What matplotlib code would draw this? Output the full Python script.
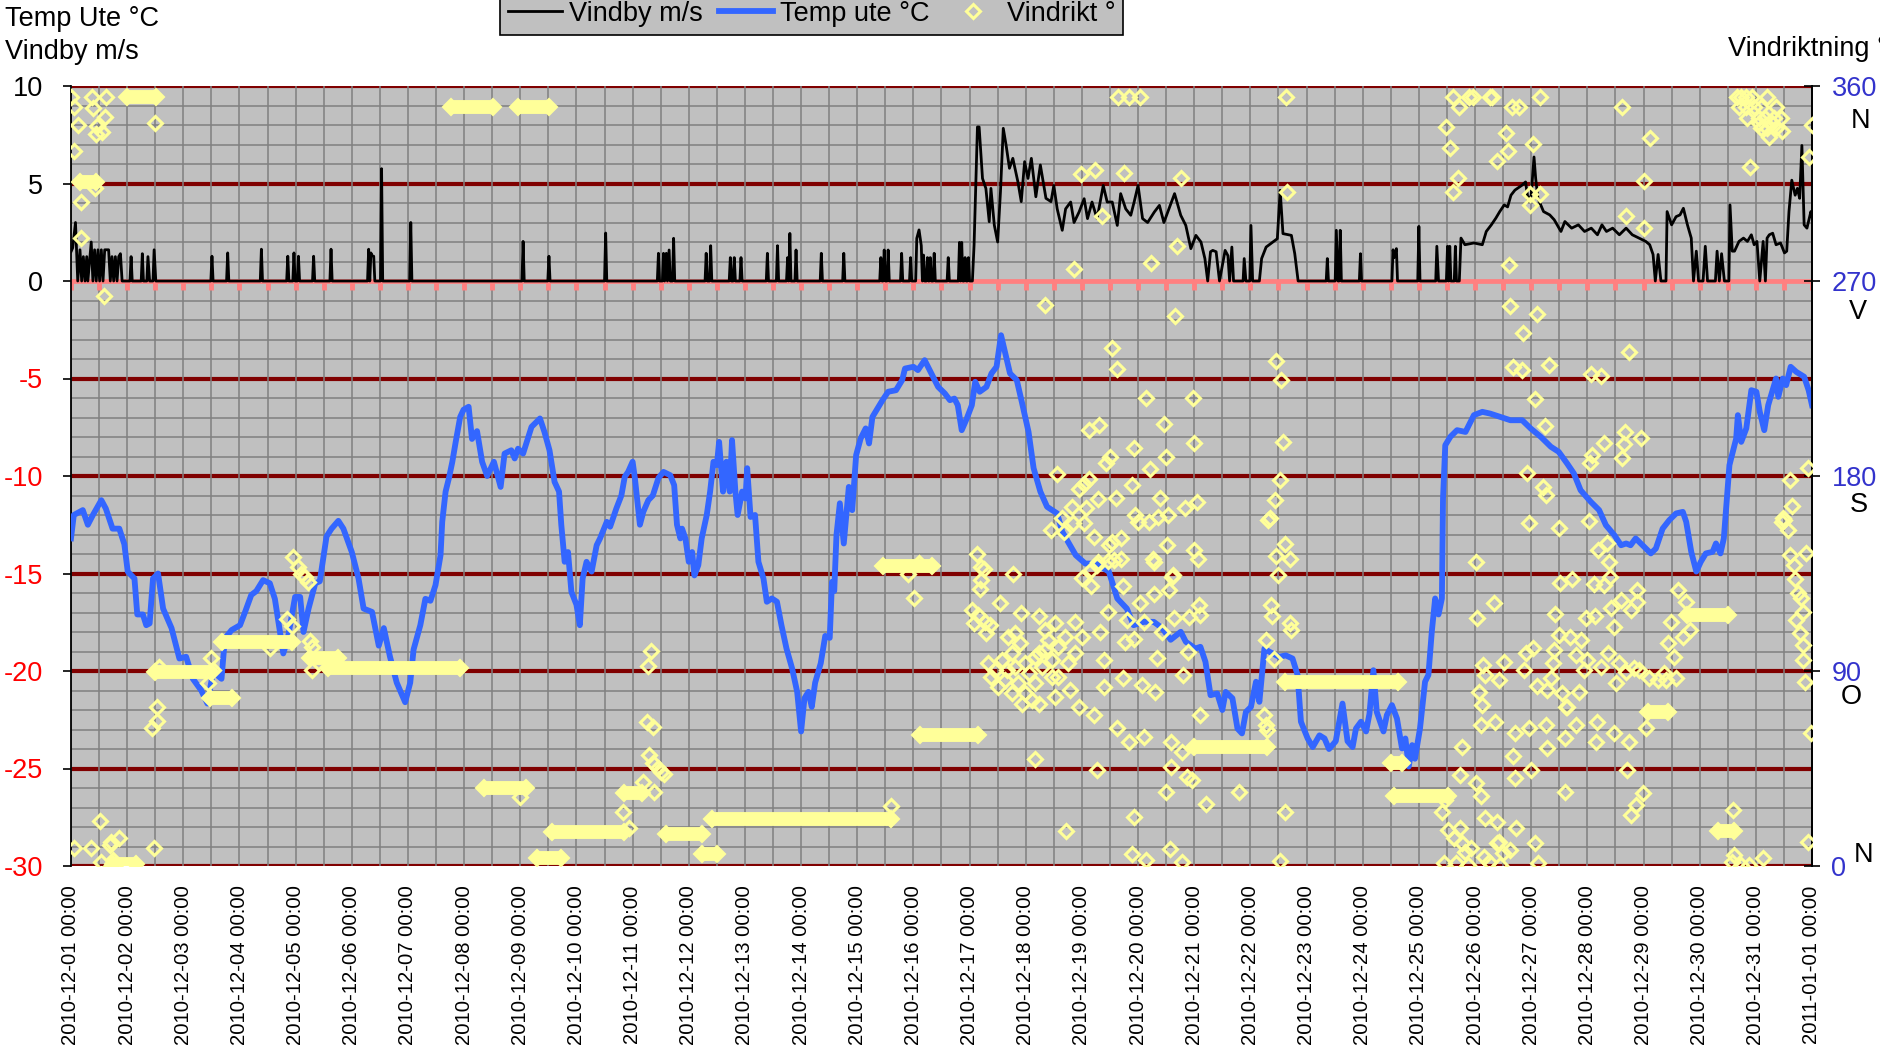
import numpy as np
import pandas as pd
import matplotlib
matplotlib.use("Agg")
import matplotlib.pyplot as plt
import matplotlib.dates as mdates
from matplotlib import font_manager
from matplotlib.lines import Line2D
from matplotlib.ticker import FixedLocator
from matplotlib.transforms import ScaledTranslation, blended_transform_factory

# the original uses a narrow Arial-like face; use Liberation Sans Narrow when present
installed = {f.name for f in font_manager.fontManager.ttflist}
if 'Liberation Sans Narrow' in installed:
    plt.rcParams['font.family'] = ['Liberation Sans Narrow', 'DejaVu Sans']
    fs = 1.0
else:
    plt.rcParams['font.family'] = ['Liberation Sans', 'DejaVu Sans']
    fs = 0.84

# time is in days after 2010-12-01 00:00
start = pd.Timestamp('2010-12-01 00:00')
end = pd.Timestamp('2011-01-01 00:00')

# Temp ute (deg C)
temp_pts = [
    (0.00, -13.2), (0.05, -12.0), (0.21, -11.75), (0.30, -12.5), (0.39, -12.0), (0.54, -11.24), (0.62, -11.67),
    (0.74, -12.7), (0.86, -12.7), (0.95, -13.5), (1.01, -14.9), (1.13, -15.26), (1.18, -17.1), (1.28, -17.1),
    (1.34, -17.65), (1.40, -17.56), (1.46, -15.26), (1.55, -15.0), (1.64, -16.8), (1.79, -17.8), (1.93, -19.36),
    (2.05, -19.27), (2.17, -20.4), (2.32, -21.0), (2.43, -21.67), (2.53, -20.04), (2.68, -20.4), (2.74, -18.33),
    (2.86, -17.9), (3.01, -17.65), (3.10, -16.97), (3.21, -16.1), (3.30, -15.9), (3.42, -15.34), (3.54, -15.5),
    (3.63, -16.3), (3.72, -18.0), (3.78, -19.1), (3.86, -18.33), (3.99, -16.2), (4.08, -16.2), (4.14, -18.0),
    (4.23, -16.8), (4.35, -15.5), (4.43, -15.4), (4.55, -13.1), (4.64, -12.7), (4.76, -12.3), (4.85, -12.7),
    (5.00, -13.9), (5.12, -15.26), (5.21, -16.8), (5.36, -16.97), (5.48, -18.7), (5.57, -17.8), (5.68, -19.27),
    (5.80, -20.6), (5.95, -21.6), (6.04, -20.6), (6.10, -18.9), (6.22, -17.65), (6.31, -16.3), (6.40, -16.4),
    (6.49, -15.6), (6.58, -14.06), (6.61, -12.35), (6.67, -10.8), (6.73, -10.1), (6.79, -9.27), (6.85, -8.25),
    (6.93, -6.97), (6.99, -6.6), (7.08, -6.45), (7.14, -8.1), (7.23, -7.7), (7.32, -9.27), (7.41, -10.0),
    (7.53, -9.27), (7.65, -10.56), (7.72, -8.85), (7.84, -8.68), (7.90, -9.1), (7.96, -8.6), (8.05, -8.85),
    (8.20, -7.48), (8.35, -7.05), (8.43, -7.74), (8.52, -8.68), (8.61, -10.3), (8.69, -10.8), (8.73, -12.5),
    (8.79, -14.4), (8.85, -13.9), (8.91, -15.94), (9.00, -16.6), (9.06, -17.65), (9.11, -15.26), (9.18, -14.4),
    (9.27, -14.9), (9.36, -13.55), (9.42, -13.2), (9.54, -12.35), (9.60, -12.6), (9.71, -11.67), (9.80, -11.0),
    (9.86, -10.04), (9.92, -9.79), (10.00, -9.27), (10.04, -10.1), (10.13, -12.5), (10.19, -11.84), (10.28, -11.24),
    (10.36, -11.0), (10.46, -10.1), (10.55, -9.79), (10.67, -9.96), (10.74, -10.47), (10.79, -12.5), (10.85, -13.2),
    (10.88, -12.7), (10.94, -13.2), (11.00, -14.4), (11.06, -13.9), (11.10, -15.1), (11.17, -14.57), (11.23, -13.2),
    (11.32, -12.0), (11.38, -10.8), (11.44, -9.27), (11.50, -9.44), (11.54, -8.25), (11.61, -10.8), (11.67, -9.27),
    (11.73, -10.8), (11.77, -8.16), (11.83, -10.8), (11.87, -12.0), (11.95, -10.8), (12.01, -11.15), (12.04, -9.6),
    (12.10, -12.1), (12.18, -12.0), (12.24, -14.4), (12.33, -15.26), (12.39, -16.45), (12.48, -16.28), (12.57, -16.45),
    (12.65, -17.65), (12.74, -18.85), (12.84, -19.87), (12.93, -21.07), (13.00, -23.1), (13.06, -21.4), (13.13, -21.07),
    (13.19, -21.84), (13.25, -20.6), (13.35, -19.6), (13.43, -18.2), (13.51, -18.3), (13.55, -15.43), (13.59, -15.9),
    (13.63, -13.03), (13.69, -11.4), (13.76, -13.46), (13.85, -10.56), (13.91, -11.75), (13.98, -8.93), (14.06, -8.08),
    (14.15, -7.56), (14.21, -8.33), (14.27, -6.97), (14.36, -6.54), (14.45, -6.11), (14.55, -5.68), (14.69, -5.6),
    (14.80, -5.08), (14.85, -4.49), (15.00, -4.4), (15.08, -4.57), (15.20, -4.06), (15.32, -4.74), (15.44, -5.43),
    (15.56, -5.77), (15.65, -6.11), (15.73, -6.03), (15.79, -6.37), (15.86, -7.65), (15.95, -7.05), (16.04, -6.37),
    (16.10, -5.17), (16.18, -5.68), (16.30, -5.43), (16.39, -4.74), (16.48, -4.4), (16.56, -2.78), (16.63, -3.63),
    (16.72, -4.74), (16.84, -5.08), (16.93, -6.2), (17.05, -7.74), (17.14, -9.6), (17.26, -10.8), (17.38, -11.58),
    (17.56, -11.92), (17.65, -12.86), (17.77, -13.46), (17.89, -14.06), (18.06, -14.49), (18.24, -14.49),
    (18.48, -14.9), (18.63, -16.28), (18.80, -16.8), (18.92, -17.65), (19.10, -17.48), (19.28, -17.48),
    (19.43, -17.8), (19.58, -18.4), (19.76, -17.99), (19.85, -18.5), (20.02, -18.85), (20.11, -18.76),
    (20.20, -19.53), (20.29, -21.24), (20.41, -21.15), (20.50, -22.0), (20.56, -21.07), (20.68, -21.4),
    (20.77, -22.95), (20.85, -23.2), (20.92, -22.1), (21.01, -21.84), (21.10, -20.55), (21.16, -21.58),
    (21.25, -18.85), (21.33, -19.0), (21.51, -19.27), (21.63, -19.2), (21.75, -19.36), (21.84, -20.2),
    (21.90, -22.6), (22.02, -23.46), (22.11, -23.9), (22.23, -23.3), (22.32, -23.46), (22.40, -24.0),
    (22.52, -23.6), (22.64, -21.67), (22.73, -23.6), (22.82, -23.9), (22.88, -22.95), (22.97, -22.6),
    (23.06, -23.1), (23.12, -22.2), (23.19, -19.96), (23.25, -22.1), (23.37, -23.1), (23.43, -22.26),
    (23.52, -21.75), (23.61, -22.44), (23.70, -23.97), (23.76, -23.46), (23.82, -24.9), (23.88, -23.8),
    (23.93, -24.5), (24.02, -22.95), (24.11, -20.55), (24.17, -20.2), (24.23, -17.99), (24.29, -16.28),
    (24.35, -17.1), (24.41, -16.28), (24.43, -11.15), (24.47, -8.42), (24.56, -7.99), (24.68, -7.65),
    (24.83, -7.74), (24.92, -7.22), (24.98, -6.88), (25.13, -6.71), (25.27, -6.8), (25.45, -6.97),
    (25.63, -7.14), (25.84, -7.14), (25.99, -7.56), (26.17, -7.99), (26.35, -8.5), (26.49, -8.76),
    (26.64, -9.36), (26.76, -9.87), (26.88, -10.73), (27.06, -11.32), (27.21, -11.75), (27.33, -12.52),
    (27.48, -13.03), (27.60, -13.55), (27.69, -13.46), (27.77, -13.55), (27.86, -13.2), (28.01, -13.63),
    (28.13, -13.97), (28.22, -13.72), (28.34, -12.7), (28.46, -12.26), (28.58, -11.92), (28.70, -11.84),
    (28.76, -12.35), (28.85, -13.89), (28.94, -14.9), (29.02, -14.4), (29.11, -13.97), (29.23, -13.89),
    (29.29, -13.46), (29.37, -13.97), (29.43, -13.2), (29.47, -11.67), (29.53, -9.44), (29.59, -8.76),
    (29.65, -8.08), (29.68, -6.88), (29.74, -8.25), (29.83, -7.56), (29.92, -5.6), (30.01, -5.68),
    (30.07, -6.71), (30.15, -7.65), (30.22, -6.37), (30.31, -5.5), (30.36, -5.0), (30.40, -5.94),
    (30.48, -5.0), (30.54, -5.34), (30.62, -4.4), (30.72, -4.66), (30.86, -4.91), (30.94, -5.6), (31.00, -6.37),
]

# Vindby (m/s)
wind_pts = [
    (0.00, 1.5), (0.03, 1.7), (0.08, 3.0), (0.10, 1.5), (0.12, 0), (0.16, 1.6), (0.19, 0), (0.22, 1.25),
    (0.25, 0), (0.28, 1.25), (0.30, 0), (0.36, 2.0), (0.39, 0), (0.42, 1.6), (0.45, 0), (0.48, 1.6),
    (0.51, 0), (0.54, 1.6), (0.57, 0), (0.60, 1.6), (0.64, 1.6), (0.67, 1.6), (0.70, 0), (0.73, 1.25),
    (0.76, 0), (0.79, 1.25), (0.82, 0), (0.85, 1.25), (0.88, 1.4), (0.91, 0), (1.05, 0), (1.07, 1.25),
    (1.09, 0), (1.25, 0), (1.27, 1.4), (1.29, 0), (1.35, 0), (1.37, 1.25), (1.40, 0), (1.46, 0),
    (1.48, 1.6), (1.51, 0), (2.49, 0), (2.51, 1.27), (2.53, 0), (2.77, 0), (2.79, 1.44), (2.81, 0),
    (3.37, 0), (3.39, 1.63), (3.41, 0), (3.84, 0), (3.86, 1.27), (3.88, 0), (3.95, 0), (3.97, 1.44),
    (3.99, 0), (4.03, 0), (4.05, 1.27), (4.07, 0), (4.30, 0), (4.32, 1.27), (4.34, 0), (4.61, 0),
    (4.63, 1.63), (4.65, 0), (5.28, 0), (5.30, 1.63), (5.32, 0), (5.34, 1.44), (5.36, 1.3), (5.39, 1.27),
    (5.41, 0), (5.51, 0), (5.53, 5.76), (5.55, 0), (6.03, 0), (6.05, 3.0), (6.07, 0), (8.03, 0),
    (8.05, 2.03), (8.07, 0), (8.49, 0), (8.51, 1.27), (8.53, 0), (9.50, 0), (9.52, 2.46), (9.54, 0),
    (10.44, 0), (10.46, 1.42), (10.48, 0), (10.53, 0), (10.55, 1.42), (10.57, 0), (10.60, 1.42), (10.62, 0),
    (10.65, 1.59), (10.67, 0), (10.71, 0), (10.73, 2.19), (10.75, 0), (11.29, 0), (11.31, 1.42), (11.33, 0),
    (11.37, 0), (11.39, 1.81), (11.41, 0), (11.72, 0), (11.74, 1.2), (11.76, 0), (11.79, 0), (11.81, 1.2),
    (11.83, 0), (11.91, 0), (11.93, 1.2), (11.95, 0), (12.38, 0), (12.40, 1.42), (12.42, 0), (12.56, 0),
    (12.58, 1.81), (12.60, 0), (12.74, 0), (12.76, 1.2), (12.78, 0), (12.80, 2.44), (12.82, 0), (12.89, 0),
    (12.91, 1.59), (12.93, 0), (13.34, 0), (13.36, 1.42), (13.38, 0), (13.74, 0), (13.76, 1.42), (13.78, 0),
    (14.40, 0), (14.42, 1.2), (14.44, 0), (14.46, 0), (14.48, 1.59), (14.50, 0), (14.53, 0), (14.55, 1.59),
    (14.57, 0), (14.77, 0), (14.79, 1.42), (14.81, 0), (14.93, 0), (14.95, 1.2), (14.97, 0), (15.04, 0),
    (15.06, 2.19), (15.10, 2.62), (15.14, 1.81), (15.16, 0), (15.18, 1.33), (15.20, 0), (15.23, 0), (15.25, 1.2),
    (15.27, 0), (15.28, 0), (15.30, 1.2), (15.32, 0), (15.35, 0), (15.37, 1.42), (15.39, 0), (15.60, 0),
    (15.62, 1.2), (15.64, 0), (15.80, 0), (15.82, 1.98), (15.84, 0), (15.86, 1.98), (15.88, 0), (15.90, 0),
    (15.92, 1.2), (15.94, 0), (15.96, 0), (15.98, 1.2), (16.00, 0), (16.05, 0), (16.08, 1.85), (16.14, 7.9),
    (16.17, 7.9), (16.23, 5.26), (16.29, 4.75), (16.35, 3.04), (16.38, 4.75), (16.44, 2.87), (16.50, 2.0),
    (16.55, 4.58), (16.60, 7.83), (16.65, 6.97), (16.71, 5.78), (16.77, 6.29), (16.86, 5.09), (16.92, 4.07),
    (16.98, 6.12), (17.04, 5.26), (17.10, 6.29), (17.18, 4.32), (17.26, 5.95), (17.36, 4.24), (17.45, 4.07),
    (17.50, 4.9), (17.56, 3.7), (17.65, 2.6), (17.71, 3.7), (17.80, 4.05), (17.86, 3.0), (17.95, 3.54),
    (18.04, 4.22), (18.10, 3.2), (18.18, 4.05), (18.27, 3.2), (18.38, 4.9), (18.45, 4.05), (18.54, 4.05),
    (18.63, 2.85), (18.69, 4.48), (18.78, 3.7), (18.87, 3.37), (18.93, 4.05), (19.00, 4.9), (19.08, 3.2),
    (19.17, 3.0), (19.29, 3.54), (19.38, 3.88), (19.46, 3.0), (19.55, 3.7), (19.65, 4.48), (19.76, 3.37),
    (19.85, 2.85), (19.94, 1.66), (20.03, 2.34), (20.12, 2.0), (20.19, 1.15), (20.24, 0), (20.29, 1.5),
    (20.33, 1.57), (20.39, 1.5), (20.45, 0), (20.55, 1.57), (20.60, 1.3), (20.63, 0), (20.67, 1.74),
    (20.70, 0), (20.87, 0), (20.89, 1.15), (20.92, 0), (20.99, 0), (21.01, 2.85), (21.04, 0), (21.16, 0),
    (21.20, 1.15), (21.28, 1.74), (21.40, 2.0), (21.48, 2.17), (21.53, 4.65), (21.58, 2.43), (21.73, 2.34),
    (21.79, 1.4), (21.85, 0), (22.35, 0), (22.37, 1.15), (22.39, 0), (22.51, 0), (22.53, 2.6), (22.56, 0),
    (22.58, 0), (22.60, 2.6), (22.62, 0), (22.94, 0), (22.96, 1.4), (22.98, 0), (23.52, 0), (23.54, 1.6),
    (23.56, 1.2), (23.60, 1.66), (23.62, 0), (23.98, 0), (24.00, 2.8), (24.02, 0), (24.30, 0), (24.32, 1.78),
    (24.35, 0), (24.49, 0), (24.51, 1.78), (24.53, 0), (24.55, 1.78), (24.57, 0), (24.63, 0), (24.65, 1.78),
    (24.67, 0), (24.72, 0), (24.75, 2.2), (24.82, 1.86), (24.98, 1.95), (25.13, 1.86), (25.20, 2.54),
    (25.29, 2.88), (25.37, 3.22), (25.44, 3.56), (25.52, 3.9), (25.58, 3.8), (25.64, 4.4), (25.71, 4.66),
    (25.83, 4.9), (25.90, 5.08), (25.95, 4.07), (26.00, 4.4), (26.05, 6.36), (26.08, 5.25), (26.12, 4.24),
    (26.22, 3.56), (26.33, 3.39), (26.41, 3.14), (26.53, 2.54), (26.60, 3.05), (26.72, 2.71), (26.84, 2.88),
    (26.95, 2.54), (27.07, 2.71), (27.18, 2.37), (27.26, 2.88), (27.34, 2.54), (27.45, 2.71), (27.57, 2.37),
    (27.69, 2.71), (27.80, 2.37), (27.92, 2.2), (28.04, 2.03), (28.11, 1.86), (28.17, 1.36), (28.21, 0),
    (28.26, 1.36), (28.31, 0), (28.40, 0), (28.42, 3.56), (28.50, 2.88), (28.58, 3.3), (28.65, 3.39),
    (28.71, 3.73), (28.78, 2.9), (28.85, 2.2), (28.89, 0), (28.94, 1.53), (28.98, 0), (29.06, 0),
    (29.10, 1.78), (29.14, 0), (29.28, 0), (29.31, 1.53), (29.35, 0), (29.39, 1.4), (29.44, 0), (29.52, 0),
    (29.54, 3.9), (29.58, 1.53), (29.62, 1.53), (29.70, 2.03), (29.78, 2.2), (29.85, 2.03), (29.92, 2.37),
    (29.97, 1.86), (30.02, 2.03), (30.07, 0), (30.13, 2.03), (30.17, 0), (30.20, 2.2), (30.24, 2.37),
    (30.30, 2.45), (30.36, 1.86), (30.44, 1.95), (30.51, 1.44), (30.55, 1.53), (30.59, 3.56), (30.64, 5.17),
    (30.70, 4.4), (30.74, 4.75), (30.78, 4.24), (30.82, 6.95), (30.86, 2.88), (30.91, 2.71), (30.98, 3.56),
    (31.00, 3.3),
]

# Vindrikt (deg), single readings
dir_pts = [
    (0.00, 355), (0.05, 350.5), (0.37, 355), (0.62, 355), (0.40, 350), (0.60, 345.6), (0.13, 342),
    (0.47, 341.6), (0.45, 338), (0.55, 338.9), (1.50, 343), (0.05, 330), (0.43, 313), (0.18, 306.5),
    (0.17, 290), (0.58, 263), (0.06, 8.5), (0.35, 8.5), (0.51, 21), (0.54, 2), (0.70, 9.7), (0.71, 11),
    (0.86, 12.9), (0.74, 3), (0.78, 0.5), (1.47, 8.5), (1.45, 63.5), (1.54, 67), (1.54, 73.2),
    (1.56, 92), (2.50, 96), (2.53, 90.5), (2.44, 84.4), (3.84, 114), (3.93, 111), (3.54, 100.5),
    (4.26, 104), (4.29, 101), (4.29, 90.5), (3.96, 142.8), (4.05, 138), (4.17, 133.5), (4.10, 135),
    (4.22, 131), (8.00, 32), (10.32, 99.4), (10.28, 92.5), (10.25, 66.6), (10.36, 64.3), (10.30, 51.2),
    (10.37, 47.4), (10.45, 45.4), (10.56, 42.6), (10.19, 38.8), (10.38, 34.3), (9.83, 24.9), (9.94, 17.7),
    (10.50, 43.5), (14.60, 27.7), (15.01, 123.5), (14.90, 135), (15.10, 140),
    (17.35, 258.8), (19.65, 253.8), (18.54, 239.2), (18.63, 229.2), (19.14, 216.1), (19.98, 216.1),
    (18.12, 201.2), (18.31, 203.5), (19.47, 203.9), (18.93, 193), (19.99, 195.2), (18.50, 188.8),
    (18.43, 185.8), (19.50, 188.8), (19.21, 183), (17.55, 180.7), (18.13, 178.8), (18.04, 176.5),
    (17.95, 173.9), (18.89, 175.8), (18.61, 169.9), (19.39, 169.9), (18.28, 169.2), (18.07, 165),
    (17.83, 165.8), (20.05, 167.8), (19.83, 165), (18.95, 161.9), (19.20, 158.8), (18.99, 158.8),
    (19.35, 161.2), (19.54, 161.9), (18.03, 158.5), (17.85, 158.1), (17.65, 160.4), (17.45, 155),
    (17.68, 154.2), (18.21, 151.9), (18.53, 149.6), (18.70, 151.2), (18.49, 148.1), (18.58, 141.2),
    (18.70, 141.9), (18.46, 140.7), (19.26, 141.9), (19.29, 140.4), (19.52, 148.1), (20.00, 145.8),
    (20.07, 141.9), (16.13, 143.8), (16.20, 138.1), (16.26, 137.3), (16.78, 135), (18.28, 140.4),
    (18.16, 136.5), (19.62, 134.5), (21.46, 233), (21.55, 224.2), (21.58, 195.8), (21.52, 178.1),
    (21.43, 168.8), (21.35, 160.7), (21.32, 159.6), (21.61, 148.8), (21.46, 143.2), (21.70, 141.9),
    (21.49, 134.5), (16.21, 132), (16.18, 127.7), (18.00, 132.7), (18.17, 129.2), (18.73, 129.2),
    (19.61, 133.5), (19.55, 127.3), (21.37, 120.4), (21.38, 115.4), (21.71, 112), (21.73, 108.9),
    (21.27, 104.3), (21.42, 95.4), (21.24, 69.7), (21.27, 65), (21.30, 62.7), (16.54, 121.2),
    (16.04, 118.1), (16.15, 115.8), (16.07, 112), (16.27, 112.7), (16.36, 111.2), (16.30, 107.4),
    (16.92, 116.6), (17.23, 115.4), (16.81, 107.4), (16.69, 105.8), (16.90, 102.7), (16.75, 98.1),
    (16.33, 93.5), (16.45, 90.4), (16.57, 95.0), (16.66, 90.4), (16.81, 92.0), (16.99, 93.5),
    (17.17, 96.6), (17.35, 99.7), (17.46, 95.0), (17.58, 101.2), (17.70, 105.8), (17.88, 112.7),
    (17.52, 112.0), (17.35, 108.9), (17.40, 104.3), (17.23, 98.1), (17.05, 88.9), (17.17, 84.3),
    (17.29, 92.0), (16.87, 84.3), (16.99, 79.7), (17.11, 76.6), (17.23, 75.0), (16.75, 79.7),
    (16.51, 82.7), (16.93, 75.0), (17.52, 78.1), (17.46, 87.4), (17.58, 87.4), (17.79, 81.2),
    (17.76, 93.5), (17.88, 98.1), (18.00, 105.8), (16.39, 87.4), (16.63, 85.8), (18.33, 108.1),
    (18.39, 95.0), (18.40, 82.7), (18.46, 117.4), (18.74, 86.6), (18.77, 103.5), (18.92, 105.0),
    (19.04, 121.5), (19.28, 125.5), (19.10, 112.7), (19.07, 83.5), (19.30, 80.4), (19.34, 95.8),
    (19.43, 108.1), (19.64, 114.3), (19.90, 115.0), (20.08, 120.4), (20.11, 115.8), (19.89, 98.9),
    (19.80, 88.1), (20.11, 69.7), (17.95, 73.5), (18.21, 69.7), (18.63, 63.5), (18.83, 57.4),
    (19.10, 59.7), (19.58, 57.4), (19.79, 52.7), (19.58, 45.8), (18.27, 44.3), (17.17, 49.2),
    (19.88, 41.2), (18.80, 113.5), (18.27, 138.9), (17.71, 16), (18.93, 22.7), (18.89, 5.5),
    (19.15, 2.8), (19.57, 7.8), (19.79, 1.7), (19.96, 39.9), (19.49, 34.3), (20.21, 28.8),
    (20.79, 34.3), (21.62, 24.9), (21.52, 2.2),
    (18.64, 355), (18.83, 355), (19.04, 355), (21.64, 355), (17.99, 319.3), (18.24, 321.3),
    (18.75, 320), (19.76, 317.4), (21.65, 311.3), (18.36, 300), (19.70, 286.3), (19.23, 278.5),
    (17.86, 275.4),
    (24.49, 341.2), (24.55, 331.2), (24.69, 317.4), (24.61, 311.3), (24.61, 355), (24.71, 350.4),
    (24.90, 355), (24.96, 355), (25.27, 355), (25.31, 355), (25.66, 350.4), (25.78, 350.4), (26.15, 355),
    (25.55, 338.2), (25.58, 330.2), (25.40, 325.4), (26.04, 333.2), (25.98, 310.2), (26.16, 310.2),
    (25.97, 305.2), (25.60, 277.4), (25.62, 258.6), (26.10, 254.9), (27.61, 350.4), (28.11, 336.1),
    (28.00, 316.3), (27.69, 300), (28.00, 294.3),
    (29.66, 355), (29.74, 355), (29.82, 355), (29.93, 355), (30.20, 355), (29.70, 350.2), (29.82, 350.2),
    (29.97, 350.2), (30.09, 350.2), (30.36, 350.2), (29.85, 345.1), (30.05, 345.1), (30.16, 345.1),
    (30.32, 345.1), (30.44, 345.1), (30.09, 340.5), (30.20, 340.5), (30.36, 340.5), (30.47, 339),
    (30.24, 336.6), (29.89, 322.4), (30.05, 342.8), (30.28, 342.8), (31.00, 342), (30.95, 327.4),
    (25.86, 246.1), (27.74, 237), (25.68, 230.4), (25.84, 228.9), (26.32, 231.2), (27.06, 227),
    (27.25, 226.1), (26.06, 215.4), (26.24, 203), (27.67, 200.4), (27.65, 194.7), (27.96, 197.4),
    (27.30, 195), (27.09, 189.7), (27.04, 186.1), (27.61, 188.1), (25.92, 181.2), (26.21, 175),
    (26.27, 171.2), (25.96, 158.4), (26.49, 156.1), (27.03, 159.4), (27.35, 149.2), (27.19, 145.8),
    (27.39, 140.4), (25.02, 140.1), (26.51, 130.4), (26.73, 132.3), (27.11, 130.1), (27.30, 129.7),
    (27.40, 133.5), (25.33, 121.5), (25.04, 114.3), (26.43, 116.3), (26.97, 114.3), (27.13, 115.4),
    (27.42, 118.9), (27.60, 122.7), (27.89, 127.4), (27.77, 118.1), (27.89, 122), (27.48, 110.4),
    (28.61, 127.4), (28.76, 122), (28.49, 112.7), (28.43, 102.7), (28.55, 96.6), (28.37, 88.9),
    (28.58, 86.6), (28.40, 85.8), (28.82, 108.9), (28.70, 105.8),
    (30.60, 178.1), (30.64, 166.1), (30.51, 159.7), (30.57, 155), (30.92, 183.5), (30.60, 143.5),
    (30.68, 138.9), (30.90, 144.3), (30.69, 132.3), (30.75, 125.8), (30.81, 123.5), (30.84, 117.4),
    (30.72, 113.5), (30.78, 107.4), (30.84, 102), (30.84, 95), (30.87, 85), (30.98, 61.2),
    (30.46, 158.9), (30.49, 160.5),
    (25.14, 92.7), (25.18, 88.1), (25.07, 80.4), (25.13, 74.3), (25.10, 65.0), (25.36, 66.6),
    (25.42, 85.8), (25.51, 94.3), (25.87, 90.4), (25.90, 98.4), (26.04, 100.4), (26.10, 83.0),
    (26.26, 65.0), (26.35, 86.6), (26.41, 99.7), (26.49, 106.6), (26.69, 105.8), (26.88, 104.3),
    (26.79, 97.4), (26.38, 93.5), (26.29, 81.2), (26.55, 79.7), (26.64, 73.5), (26.79, 65.0),
    (26.94, 90.4), (26.85, 80.4), (27.00, 95.0), (27.24, 92.0), (27.37, 98.1), (27.57, 93.5),
    (27.68, 89.7), (27.83, 91.2), (27.92, 90.4), (28.10, 86.6), (28.25, 85.8), (27.51, 84.3),
    (27.18, 66.6), (27.48, 61.2), (27.74, 57.4), (28.04, 63.5), (27.15, 57.4), (26.61, 58.9),
    (26.29, 54.3), (25.96, 63.5), (25.72, 61.2), (25.68, 50.7), (25.99, 44.3), (24.77, 55.0),
    (24.74, 42.0), (27.71, 44.3), (26.62, 73.5),
    (25.01, 38.4), (25.11, 32.3), (25.72, 40.4), (26.61, 34.3), (27.99, 33.5), (27.86, 28.1),
    (27.78, 23.5), (24.46, 30.4), (24.41, 25.1), (24.52, 16.6), (24.63, 12.8), (24.73, 17.4),
    (24.76, 10.4), (24.83, 6.6), (24.93, 8.1), (25.18, 22.0), (25.39, 20.4), (25.73, 17.4),
    (25.39, 10.4), (25.49, 5.8), (25.62, 7.4), (26.07, 10.4), (26.12, 1.2), (25.16, 4.3),
    (25.24, 2.0), (25.42, 11.2), (25.44, 0.3), (24.87, 0.3), (24.67, 1.2), (24.45, 1.2),
    (29.59, 25.8), (29.61, 5.1), (29.58, 2.0), (29.74, 0.4), (29.87, 0.4), (30.13, 3.5), (30.92, 11.2),
]

# Vindrikt periods with a steady direction: (from day, to day, deg)
steady_pts = [
    (1.00, 1.51, 355), (6.77, 7.52, 350.5), (7.96, 8.51, 350.5), (0.16, 0.45, 315.7),
    (1.50, 2.50, 89.5), (2.47, 2.87, 77.5), (2.69, 3.94, 103.5), (4.26, 4.75, 96),
    (4.58, 6.93, 91.4), (7.35, 8.10, 36), (8.57, 9.85, 15.6), (8.30, 8.72, 3.7),
    (9.85, 10.17, 33.8), (10.60, 11.24, 15.0), (11.24, 11.50, 5.5), (11.41, 14.60, 21.6),
    (14.45, 15.33, 138.5), (15.12, 16.15, 60.5), (20.00, 21.30, 55), (21.62, 23.63, 85),
    (23.56, 24.52, 32.3), (23.50, 23.70, 47.5), (29.33, 29.62, 16.3), (28.78, 29.50, 115.8),
    (28.08, 28.44, 71), (0.75, 1.15, 1.0),
]

left_ticks = [-30, -25, -20, -15, -10, -5, 0, 5, 10]
right_ticks = [0, 90, 180, 270, 360]
compass = [(360, 'N', 35, -25), (270, 'V', 33, -22), (180, 'S', 34, -21), (90, 'O', 28, -19), (0, 'N', 37, 8)]


def when(days):
    return start + pd.to_timedelta(np.asarray(days, dtype=float), unit='D')


yellow = '#FFFF99'
blue = '#3366FF'
bg = '#C0C0C0'
grid_c = '#808080'
dark_red = '#800000'
pink = '#FF8080'
big = 23.2 * fs
small = 17.8 * 0.82 / 0.84 * fs

fig = plt.figure(figsize=(18.81, 10.51), dpi=100)
ax = fig.add_axes([71 / 1881, 185 / 1051, 1741 / 1881, 780 / 1051])
ax.set_facecolor(bg)
ax.set_xlim(start, end)
ax.set_ylim(-30, 10)

ax.xaxis.set_major_locator(mdates.DayLocator())
ax.xaxis.set_major_formatter(mdates.DateFormatter('%Y-%m-%d %H:%M'))
ax.xaxis.set_minor_locator(mdates.HourLocator(byhour=[12]))
ax.tick_params(axis='x', which='both', length=0, labelrotation=90, labelsize=small, pad=14)

ax.set_yticks(left_ticks, labels=[str(v) for v in left_ticks])
for lbl, v in zip(ax.get_yticklabels(), left_ticks):
    lbl.set_color('black' if v >= 0 else '#FF0000')
ax.yaxis.set_minor_locator(FixedLocator([v for v in range(-30, 11) if v % 5 != 0]))
ax.tick_params(axis='y', which='major', direction='out', length=6, width=1.2, labelsize=big, pad=14)
ax.tick_params(axis='y', which='minor', length=0)

ax.set_axisbelow(True)
ax.grid(which='both', axis='x', color=grid_c, lw=1.1)
ax.grid(which='minor', axis='y', color=grid_c, lw=1.1)

for v in left_ticks:
    if v != 0:
        ax.axhline(v, color=dark_red, lw=3, zorder=0.4)
ax.axhline(0, color=pink, lw=3.4, zorder=1.5)
locs = np.concatenate([ax.xaxis.get_majorticklocs(), ax.xaxis.get_minorticklocs()])
bump = ax.transData + ScaledTranslation(0, -3.2 / 72, fig.dpi_scale_trans)
ax.plot(locs, np.zeros_like(locs), ls='none', marker='|', ms=6.5, mew=3.5, color=pink,
        transform=bump, zorder=1.5)

for s in ['top', 'bottom']:
    ax.spines[s].set_visible(False)
ax.spines['left'].set_linewidth(1.3)
ax.spines['right'].set_linewidth(1.3)

wt, wv = np.array(wind_pts).T
tt, tv = np.array(temp_pts).T
ax.plot(when(wt), wv, color='black', lw=2.0, zorder=2.5)
ax.plot(when(tt), tv, color=blue, lw=4.2, zorder=3, solid_joinstyle='round')

ax2 = ax.twinx()
ax2.set_ylim(0, 360)
ax2.set_yticks(right_ticks, labels=[str(v) for v in right_ticks])
ax2.tick_params(axis='y', direction='inout', length=11, width=1.2, labelsize=big,
                labelcolor='#3333CC', pad=8.5)
for s in ['top', 'bottom', 'left']:
    ax2.spines[s].set_visible(False)
ax2.spines['right'].set_linewidth(1.3)

for t0, t1, d in steady_pts:
    ax2.plot(when([t0, t1]), [d, d], color=yellow, lw=10, solid_capstyle='butt',
             marker='D', ms=8, mfc=yellow, mec=yellow, mew=1.5, zorder=4)
dt, dd = np.array(dir_pts).T
ax2.plot(when(dt), dd, ls='none', marker='D', ms=7, mfc='none', mec=yellow, mew=2.2, zorder=5)

tr = blended_transform_factory(ax2.transAxes, ax2.transData)
for deg, letter, dx, dy in compass:
    ax2.annotate(letter, xy=(1, deg), xycoords=tr, xytext=(dx, dy), textcoords='offset points',
                 ha='center', va='center', fontsize=big, color='black', annotation_clip=False)

fig.text(5 / 1881, 1 - 26 / 1051, 'Temp Ute °C', fontsize=big, va='baseline')
fig.text(5 / 1881, 1 - 59 / 1051, 'Vindby m/s', fontsize=big, va='baseline')
fig.text(1728 / 1881, 1 - 56 / 1051, 'Vindriktning °', fontsize=big, va='baseline')

handles = [Line2D([], [], color='black', lw=2.0),
           Line2D([], [], color=blue, lw=4.2),
           Line2D([], [], ls='none', marker='D', ms=7, mfc='none', mec=yellow, mew=2.2)]
leg = fig.legend(handles, ['Vindby m/s', 'Temp ute °C', 'Vindrikt °'], loc='lower left',
                 bbox_to_anchor=(500 / 1881, 1 - 35 / 1051), ncol=3, fontsize=big,
                 frameon=True, fancybox=False, facecolor=bg, edgecolor='black', framealpha=1,
                 handlelength=2.0, handletextpad=0.25, columnspacing=0.6, borderpad=0.3,
                 borderaxespad=0)
leg.get_frame().set_linewidth(1.2)

fig.savefig('out.png', dpi=100)
